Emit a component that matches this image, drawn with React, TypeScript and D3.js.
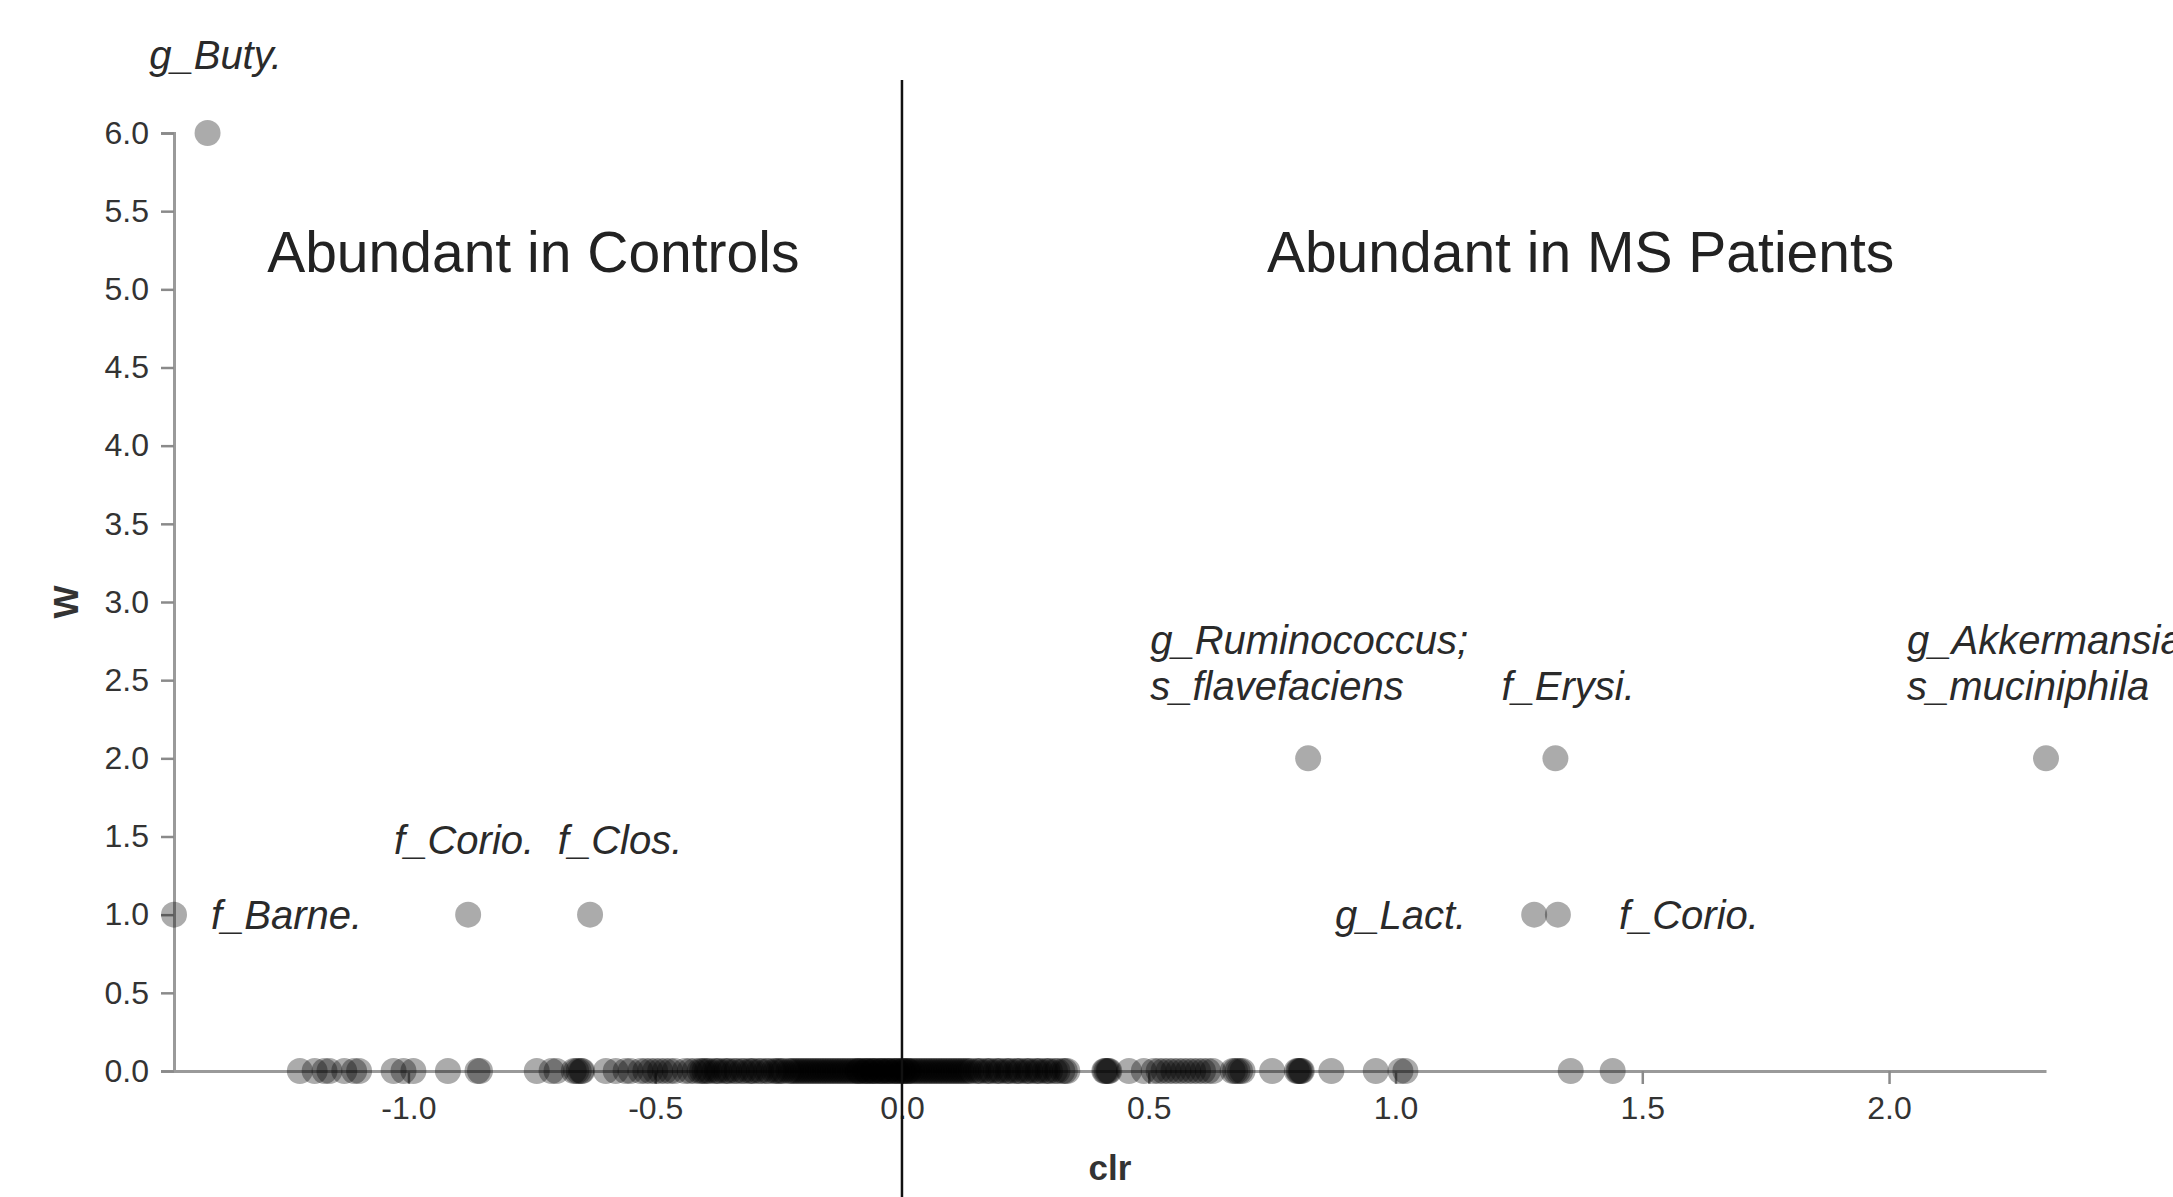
import React, { useRef, useEffect } from 'react';
import * as d3 from 'd3';

// taxa with W = 0 (clr only)
const zeroClr = [
  -1.22, -1.19, -1.17, -1.16, -1.13, -1.11, -1.10, -1.03, -1.01, -0.99,
  -0.92, -0.86, -0.855, -0.74, -0.71, -0.70, -0.665, -0.66, -0.655, -0.65, -0.648,
  -0.60, -0.58, -0.56, -0.55, -0.53, -0.51, -0.50, -0.48, -0.47, -0.44,
  -0.43, -0.41, -0.40, -0.39, -0.38, -0.37, -0.36, -0.35, -0.34, -0.335,
  -0.32, -0.31, -0.30, -0.29, -0.285, -0.27, -0.26, -0.255, -0.25, -0.24,
  -0.23, -0.225, -0.22, -0.21, -0.205, -0.20, -0.19, -0.185, -0.18, -0.175,
  -0.17, -0.16, -0.155, -0.15, -0.145, -0.14, -0.13, -0.125, -0.12, -0.115,
  -0.11, -0.10, -0.095, -0.09, -0.085, -0.08, -0.075, -0.07, -0.065, -0.06,
  -0.055, -0.05, -0.045, -0.04, -0.035, -0.03, -0.025, -0.02, -0.015, -0.01,
  -0.005, 0.0, 0.005, 0.01, 0.015, 0.02, 0.03, 0.035, 0.04, 0.05,
  0.055, 0.06, 0.07, 0.075, 0.08, 0.09, 0.10, 0.11, 0.115, 0.12,
  0.13, 0.14, 0.15, 0.16, 0.17, 0.18, 0.19, 0.20, 0.21, 0.22,
  0.23, 0.24, 0.25, 0.26, 0.27, 0.28, 0.29, 0.30, 0.31, 0.33,
  -0.395, -0.375, -0.355, -0.325, -0.305, -0.275, -0.245, -0.215, -0.195, -0.165,
  -0.135, -0.105, -0.088, -0.072, -0.058, -0.042, -0.028, -0.012, 0.002, 0.012,
  0.025, 0.045, 0.065, 0.085, 0.095, 0.105, 0.125, 0.135, 0.155, 0.175,
  0.195, 0.215, 0.235, 0.255, 0.275, 0.295, 0.315, 0.325, 0.335,
  -0.52, -0.49, -0.46, -0.42, -0.405,
  0.41, 0.412, 0.415, 0.418, 0.42, 0.46, 0.49, 0.51, 0.52, 0.53, 0.54, 0.55,
  0.56, 0.57, 0.58, 0.59, 0.60, 0.61, 0.62, 0.63,
  0.67, 0.675, 0.68, 0.685, 0.69, 0.75, 0.80, 0.803, 0.805, 0.808, 0.81, 0.87,
  0.96, 1.01, 1.02, 1.355, 1.44
];

// labelled taxa
const hitNames = [
  'g_Buty.', 'f_Barne.', 'f_Corio.', 'f_Clos.',
  'g_Ruminococcus;|s_flavefaciens', 'f_Erysi.', 'g_Akkermansia;|s_muciniphila',
  'g_Lact.', 'f_Corio. '
];
const hitClr = [-1.407, -1.475, -0.879, -0.632, 0.823, 1.324, 2.318, 1.281, 1.329];
const hitW = [6, 1, 1, 1, 2, 2, 2, 1, 1];

const yTicks = [0, 0.5, 1, 1.5, 2, 2.5, 3, 3.5, 4, 4.5, 5, 5.5, 6];
const xTicks = [-1, -0.5, 0, 0.5, 1, 1.5, 2];
const regionLabels = ['Abundant in Controls', 'Abundant in MS Patients'];
const regionClr = [-0.747, 1.375];

// label placement (pixel offsets from the point)
const labelPos = {
  'g_Buty.': { dx: 8, dy: -64, anchor: 'middle' },
  'f_Barne.': { dx: 37, dy: 14, anchor: 'start' },
  'f_Corio.': { dx: -4, dy: -61, anchor: 'middle' },
  'f_Clos.': { dx: 30, dy: -61, anchor: 'middle' },
  'g_Ruminococcus;|s_flavefaciens': { dx: -158, dy: -104, anchor: 'start' },
  'f_Erysi.': { dx: -54, dy: -58, anchor: 'start' },
  'g_Akkermansia;|s_muciniphila': { dx: -139, dy: -104, anchor: 'start' },
  'g_Lact.': { dx: -68, dy: 14, anchor: 'end' },
  'f_Corio. ': { dx: 61, dy: 14, anchor: 'start' },
};

const W = 2173;
const H = 1197;
const FONT = '"Liberation Sans", Arial, Helvetica, sans-serif';

const App = () => {
  const ref = useRef(null);

  useEffect(() => {
    const svg = d3.select(ref.current);
    svg.selectAll('*').remove();

    const allClr = zeroClr.concat(hitClr);
    const x = d3.scaleLinear().domain(d3.extent(allClr)).range([174, 2046]);
    const y = d3.scaleLinear().domain([0, 6]).range([1071, 133]);

    const points = zeroClr.map(c => ({ clr: c, w: 0 }))
      .concat(hitClr.map((c, i) => ({ clr: c, w: hitW[i] })));

    const fmt = d => d.toFixed(1);

    // axes
    const yAxis = svg.append('g')
      .attr('transform', `translate(${x.range()[0]},0)`)
      .call(d3.axisLeft(y).tickValues(yTicks).tickFormat(fmt).tickSize(13).tickPadding(12));
    const xAxis = svg.append('g')
      .attr('transform', `translate(0,${y(0)})`)
      .call(d3.axisBottom(x).tickValues(xTicks).tickFormat(fmt).tickSize(13).tickSizeOuter(0).tickPadding(12));

    [yAxis, xAxis].forEach(g => {
      g.select('.domain').attr('stroke', '#9a9a9a').attr('stroke-width', 3);
      g.selectAll('.tick line').attr('stroke', '#8a8a8a').attr('stroke-width', 2.5);
      g.selectAll('.tick text')
        .attr('fill', '#333')
        .style('font-family', FONT)
        .style('font-size', '32px');
    });

    svg.append('text')
      .attr('transform', `translate(66,${(y(0) + y(6)) / 2}) rotate(-90)`)
      .attr('text-anchor', 'middle')
      .attr('dy', '0.35em')
      .attr('fill', '#333')
      .style('font-family', FONT)
      .style('font-size', '35px')
      .style('font-weight', 'bold')
      .text('W');

    svg.append('text')
      .attr('x', (x.range()[0] + x.range()[1]) / 2)
      .attr('y', 1180)
      .attr('text-anchor', 'middle')
      .attr('fill', '#333')
      .style('font-family', FONT)
      .style('font-size', '35px')
      .style('font-weight', 'bold')
      .text('clr');

    // points
    svg.append('g')
      .selectAll('circle')
      .data(points)
      .enter()
      .append('circle')
      .attr('cx', d => x(d.clr))
      .attr('cy', d => y(d.w))
      .attr('r', 13)
      .attr('fill', '#000')
      .attr('fill-opacity', 0.33);

    // divider at clr = 0
    svg.append('line')
      .attr('x1', x(0)).attr('x2', x(0))
      .attr('y1', 80).attr('y2', H)
      .attr('stroke', '#111')
      .attr('stroke-width', 2.5);

    // region titles
    svg.append('g')
      .selectAll('text')
      .data(regionLabels)
      .enter()
      .append('text')
      .attr('x', (d, i) => x(regionClr[i]))
      .attr('y', 272)
      .attr('text-anchor', 'middle')
      .attr('fill', '#222')
      .style('font-family', FONT)
      .style('font-size', '57px')
      .text(d => d);

    // taxon labels
    const lab = svg.append('g')
      .selectAll('text')
      .data(hitNames)
      .enter()
      .append('text')
      .attr('x', (d, i) => x(hitClr[i]) + labelPos[d].dx)
      .attr('y', (d, i) => y(hitW[i]) + labelPos[d].dy)
      .attr('text-anchor', d => labelPos[d].anchor)
      .attr('fill', '#2a2a2a')
      .style('font-family', FONT)
      .style('font-size', '40px')
      .style('font-style', 'italic');

    lab.each(function (d) {
      const t = d3.select(this);
      const x0 = t.attr('x');
      d.trim().split('|').forEach((line, k) => {
        t.append('tspan')
          .attr('x', x0)
          .attr('dy', k === 0 ? 0 : 46)
          .text(line);
      });
    });
  }, []);

  return (
    <svg
      ref={ref}
      width={W}
      height={H}
      style={{ position: 'absolute', left: 0, top: 0, background: '#fff' }}
    ></svg>
  );
};

export default App;
